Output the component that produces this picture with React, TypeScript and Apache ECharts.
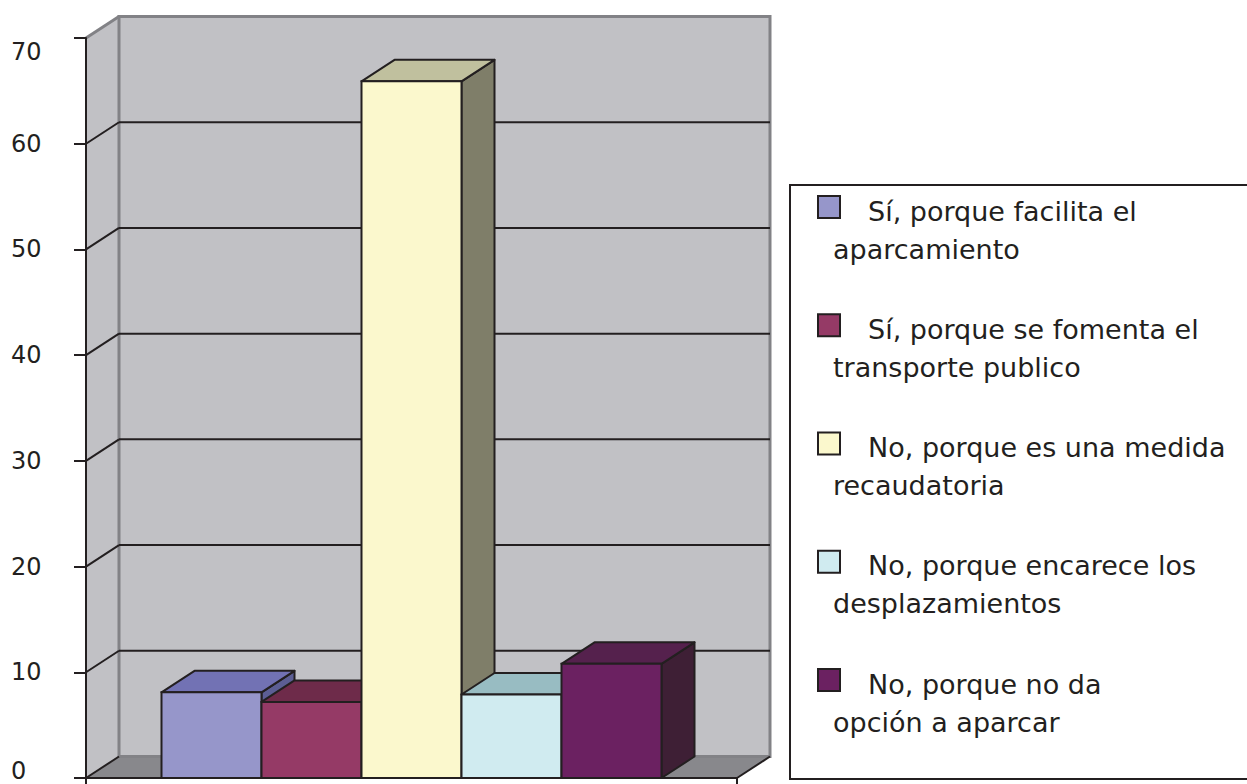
import React, { useEffect, useRef } from 'react';
import * as echarts from 'echarts';

const categories = [''];
const seriesNames = [
  'Sí, porque facilita el aparcamiento',
  'Sí, porque se fomenta el transporte publico',
  'No, porque es una medida recaudatoria',
  'No, porque encarece los desplazamientos',
  'No, porque no da opción a aparcar',
];
const legendLine1 = [
  'Sí, porque facilita el',
  'Sí, porque se fomenta el',
  'No, porque es una medida',
  'No, porque encarece los',
  'No, porque no da',
];
const legendLine2 = [
  'aparcamiento',
  'transporte publico',
  'recaudatoria',
  'desplazamientos',
  'opción a aparcar',
];
const values = [8.1, 7.2, 65.9, 7.9, 10.8];
const yTicks = [0, 10, 20, 30, 40, 50, 60, 70];

const frontColors = ['#9696ca', '#953a66', '#fbf8cd', '#d0ebf0', '#6b2161'];
const topColors = ['#7272b4', '#6e2b4a', '#c0c09e', '#98bcc2', '#55214d'];
const sideColors = ['#5c5e94', '#5a2440', '#7f7e69', '#7a9ca0', '#3e1f35'];

const DX = 33;
const DY = -21.5;
const GROUP_RATIO = 500 / 651;
const STROKE = '#231f20';
const WALL = '#c1c1c5';
const FLOOR = '#88888c';
const EDGE = '#828286';
const FONT = 'DejaVu Sans';

export default function App() {
  const ref = useRef<HTMLDivElement>(null);
  useEffect(() => {
    if (!ref.current) return;
    const chart = echarts.init(ref.current, undefined, { renderer: 'svg' });
    const yMin = yTicks[0];
    const yMax = yTicks[yTicks.length - 1];

    const wallsSeries = {
      type: 'custom',
      name: '__walls',
      z: 1,
      silent: true,
      encode: { x: 0, y: 1 },
      data: [[0, 0]],
      renderItem: (params: any, api: any) => {
        const cs = params.coordSys;
        const xL = cs.x;
        const xR = cs.x + cs.width;
        const y0 = api.coord([0, yMin])[1];
        const yT = api.coord([0, yMax])[1];
        const children: any[] = [];
        children.push({
          type: 'polygon',
          shape: { points: [[xL, y0], [xL, yT], [xL + DX, yT + DY], [xL + DX, y0 + DY]] },
          style: { fill: WALL, stroke: null },
        });
        children.push({
          type: 'rect',
          shape: { x: xL + DX, y: yT + DY, width: cs.width, height: y0 - yT },
          style: { fill: WALL, stroke: EDGE, lineWidth: 3 },
        });
        children.push({
          type: 'polygon',
          shape: { points: [[xL, y0], [xL + DX, y0 + DY], [xR + DX, y0 + DY], [xR, y0]] },
          style: { fill: FLOOR, stroke: null },
        });
        children.push({
          type: 'line',
          shape: { x1: xL + DX, y1: y0 + DY, x2: xR + DX, y2: y0 + DY },
          style: { stroke: EDGE, lineWidth: 3 },
        });
        children.push({
          type: 'line',
          shape: { x1: xL, y1: yT, x2: xL + DX, y2: yT + DY },
          style: { stroke: EDGE, lineWidth: 3 },
        });
        children.push({
          type: 'line',
          shape: { x1: xL, y1: y0, x2: xL + DX, y2: y0 + DY },
          style: { stroke: STROKE, lineWidth: 2 },
        });
        children.push({
          type: 'line',
          shape: { x1: xR, y1: y0, x2: xR + DX, y2: y0 + DY },
          style: { stroke: STROKE, lineWidth: 2 },
        });
        yTicks.slice(1, -1).forEach((v) => {
          const y = api.coord([0, v])[1];
          children.push({
            type: 'line',
            shape: { x1: xL + DX, y1: y + DY, x2: xR + DX, y2: y + DY },
            style: { stroke: STROKE, lineWidth: 2 },
          });
          children.push({
            type: 'line',
            shape: { x1: xL, y1: y, x2: xL + DX, y2: y + DY },
            style: { stroke: STROKE, lineWidth: 2 },
          });
        });
        return { type: 'group', children };
      },
    };

    const barSeries = values.map((v, i) => ({
      type: 'custom',
      name: seriesNames[i],
      z: 2 + i,
      encode: { x: 0, y: 1 },
      data: [[0, v]],
      renderItem: (params: any, api: any) => {
        const base = api.coord([0, 0]);
        const topP = api.coord([0, api.value(1)]);
        const band = api.size([1, 0])[0];
        const groupW = band * GROUP_RATIO;
        const w = groupW / values.length;
        const x0 = base[0] - groupW / 2 + i * w;
        const x1 = x0 + w;
        const yb = base[1];
        const yt = topP[1];
        return {
          type: 'group',
          children: [
            {
              type: 'polygon',
              shape: { points: [[x1, yt], [x1 + DX, yt + DY], [x1 + DX, yb + DY], [x1, yb]] },
              style: { fill: sideColors[i], stroke: STROKE, lineWidth: 2, lineJoin: 'round' },
            },
            {
              type: 'polygon',
              shape: { points: [[x0, yt], [x0 + DX, yt + DY], [x1 + DX, yt + DY], [x1, yt]] },
              style: { fill: topColors[i], stroke: STROKE, lineWidth: 2, lineJoin: 'round' },
            },
            {
              type: 'rect',
              shape: { x: x0, y: yt, width: w, height: yb - yt },
              style: { fill: frontColors[i], stroke: STROKE, lineWidth: 2 },
            },
          ],
        };
      },
    }));

    const legendCenter = 211;
    const legendStep = 118.25;
    const legendGraphics: any[] = [
      {
        type: 'rect',
        shape: { x: 790, y: 185, width: 480, height: 594 },
        style: { fill: '#ffffff', stroke: STROKE, lineWidth: 2 },
        z: 0,
      },
    ];
    seriesNames.forEach((_, i) => {
      const c = legendCenter + i * legendStep;
      legendGraphics.push({
        type: 'rect',
        shape: { x: 818, y: c - 15, width: 22, height: 22 },
        style: { fill: frontColors[i], stroke: STROKE, lineWidth: 2 },
        z: 1,
      });
      legendGraphics.push({
        type: 'text',
        x: 868,
        y: c,
        style: {
          text: legendLine1[i],
          font: `27px "${FONT}"`,
          fill: STROKE,
          verticalAlign: 'middle',
        },
        z: 1,
      });
      legendGraphics.push({
        type: 'text',
        x: 833,
        y: c + 38,
        style: {
          text: legendLine2[i],
          font: `27px "${FONT}"`,
          fill: STROKE,
          verticalAlign: 'middle',
        },
        z: 1,
      });
    });

    chart.setOption({
      animation: false,
      backgroundColor: '#ffffff',
      grid: { left: 86, top: 38, width: 651, height: 740, containLabel: false },
      xAxis: {
        type: 'category',
        data: categories,
        z: 10,
        axisLine: { show: true, lineStyle: { color: STROKE, width: 2 } },
        axisTick: { show: true, length: 8, lineStyle: { color: STROKE, width: 2 } },
        axisLabel: { show: false },
        splitLine: { show: false },
      },
      yAxis: {
        type: 'value',
        min: yMin,
        max: yMax,
        interval: 10,
        z: 10,
        axisLine: { show: true, lineStyle: { color: STROKE, width: 2 } },
        axisTick: { show: true, length: 12, lineStyle: { color: STROKE, width: 2 } },
        splitLine: { show: false },
        axisLabel: {
          align: 'left',
          margin: 75,
          fontSize: 24,
          fontFamily: FONT,
          color: STROKE,
          formatter: (v: number) =>
            v === yMax ? `{t|${v}}` : v === yMin ? `{b|${v}}` : String(v),
          rich: {
            t: { padding: [28, 0, 0, 0], fontSize: 24, fontFamily: FONT, color: STROKE },
            b: { padding: [0, 0, 14, 0], fontSize: 24, fontFamily: FONT, color: STROKE },
          },
        },
      },
      graphic: legendGraphics,
      series: [wallsSeries, ...barSeries],
    });
    return () => chart.dispose();
  }, []);
  return (
    <div
      ref={ref}
      style={{ position: 'fixed', left: 0, top: 0, width: 1247, height: 784, background: '#fff' }}
    />
  );
}
